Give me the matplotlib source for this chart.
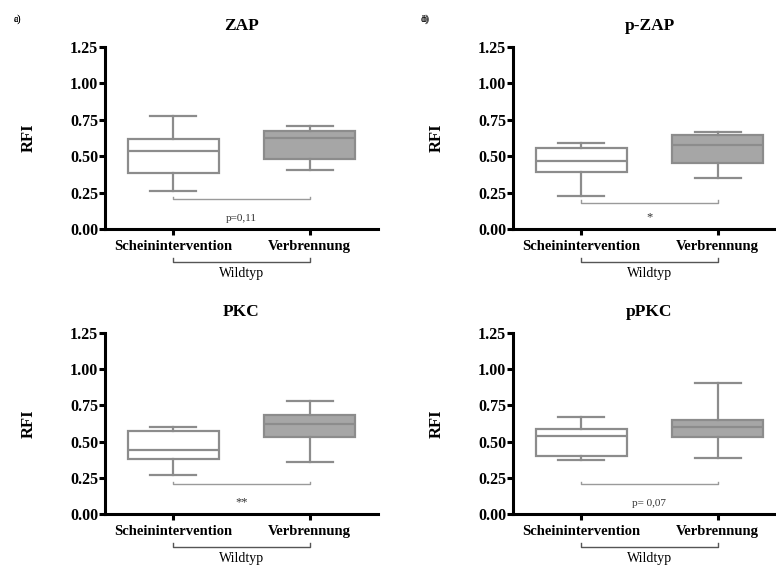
import matplotlib
matplotlib.use('Agg')
import matplotlib.pyplot as plt
import matplotlib.transforms as mtransforms

plt.rcParams['font.family'] = ['Liberation Serif', 'DejaVu Serif']

# Reading off the picture: whisker low, Q1, median, Q3, whisker high
groups = ['Scheinintervention', 'Verbrennung']
panel_tags = ['a)', 'b)', 'c)', 'd)']
titles = ['ZAP', 'p-ZAP', 'PKC', 'pPKC']
whislo = [[0.264, 0.404], [0.227, 0.349], [0.266, 0.356], [0.374, 0.385]]
q1 = [[0.383, 0.484], [0.392, 0.456], [0.378, 0.530], [0.401, 0.532]]
med = [[0.534, 0.626], [0.470, 0.576], [0.445, 0.622], [0.537, 0.601]]
q3 = [[0.617, 0.672], [0.555, 0.647], [0.576, 0.681], [0.589, 0.649]]
whishi = [[0.775, 0.706], [0.594, 0.665], [0.601, 0.780], [0.672, 0.908]]
sig_labels = ['p=0,11', '*', '**', 'p= 0,07']
sig_y = [0.204, 0.180, 0.204, 0.206]
y_ticks = [0.00, 0.25, 0.50, 0.75, 1.00, 1.25]
group_label = 'Wildtyp'

W, H = 776, 569
fig = plt.figure(figsize=(W / 100, H / 100), dpi=100)

# axes boxes in pixels: left, top(y=1.25), bottom(y=0)
ax_pix = [(105, 47, 229), (513, 47, 229), (105, 333, 514), (513, 333, 514)]
ax_w = 273
fills = ['white', '#a6a6a6']
edge = '#8c8c8c'

for i in range(4):
    left, top, bottom = ax_pix[i]
    ax = fig.add_axes([left / W, (H - bottom) / H, ax_w / W, (bottom - top) / H])

    stats = []
    for j in range(2):
        stats.append(dict(med=med[i][j], q1=q1[i][j], q3=q3[i][j],
                          whislo=whislo[i][j], whishi=whishi[i][j], label=groups[j]))
    bp = ax.bxp(stats, positions=[0, 1], widths=0.67, showfliers=False,
                patch_artist=True,
                boxprops=dict(edgecolor=edge, linewidth=1.6),
                medianprops=dict(color=edge, linewidth=1.6),
                whiskerprops=dict(color=edge, linewidth=1.6),
                capprops=dict(color=edge, linewidth=1.6), capwidths=0.34)
    for patch, fc in zip(bp['boxes'], fills):
        patch.set_facecolor(fc)

    ax.set_xlim(-0.5, 1.5)
    ax.set_ylim(0, 1.25)
    ax.set_yticks(y_ticks)
    ax.set_yticklabels(['%.2f' % v for v in y_ticks], fontsize=11.5, fontweight='bold')
    ax.set_xticks([0, 1])
    ax.set_xticklabels(groups, fontsize=10.5, fontweight='bold')
    for s in ['top', 'right']:
        ax.spines[s].set_visible(False)
    for s in ['left', 'bottom']:
        ax.spines[s].set_linewidth(2.2)
        ax.spines[s].set_color('black')
    ax.tick_params(width=2.2, length=4, pad=1, direction='out', colors='black')
    ax.tick_params(axis='x', pad=4)
    ax.patch.set_visible(False)

    ax.set_ylabel('RFI', fontsize=12, fontweight='bold', labelpad=24)
    ax.text(0.5, 1.115, titles[i], transform=ax.transAxes, ha='center', va='center',
            fontsize=12.5, fontweight='bold')

    # significance bracket
    ax.plot([0, 0, 1, 1], [sig_y[i] + 0.018, sig_y[i], sig_y[i], sig_y[i] + 0.018],
            color='#9a9a9a', linewidth=1.0)
    if '*' in sig_labels[i]:
        ax.text(0.5, 0.078, sig_labels[i], ha='center', va='center', fontsize=9, color='#333333')
    else:
        ax.text(0.5, 0.07, sig_labels[i], ha='center', va='center', fontsize=8, color='#333333')

    # group bracket below the x axis
    tr = mtransforms.blended_transform_factory(ax.transData, ax.transAxes)
    ax.plot([0, 0, 1, 1], [-0.16, -0.182, -0.182, -0.16], color='#555555',
            linewidth=1.0, transform=tr, clip_on=False)
    ax.text(0.5, -0.245, group_label, transform=tr, ha='center', va='center', fontsize=10)

    fig.text((left - 88) / W, 1 - 19 / H, panel_tags[i], ha='center', va='center', fontsize=7)

fig.savefig('out.png', dpi=100)
